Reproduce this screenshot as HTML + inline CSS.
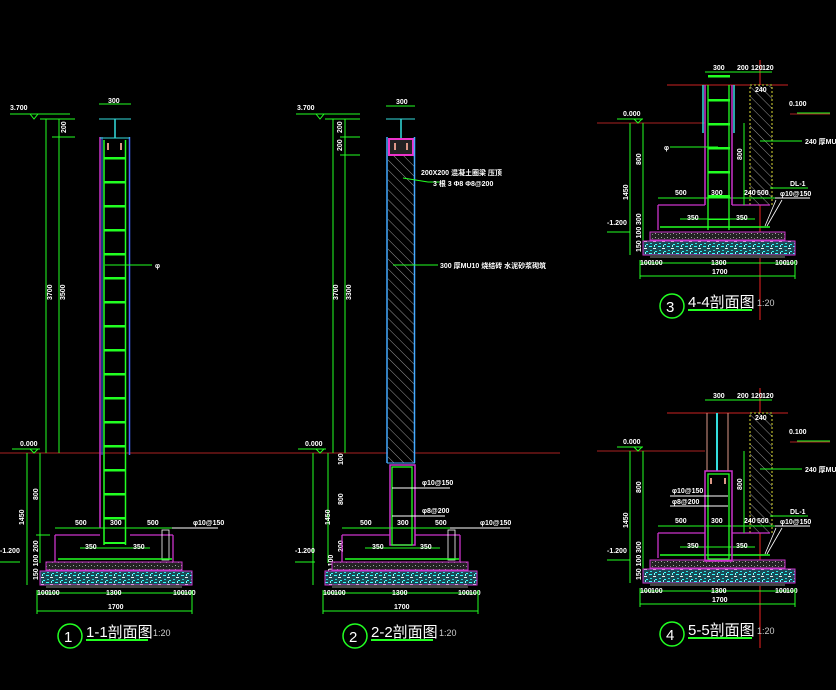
<!DOCTYPE html>
<html><head><meta charset="utf-8"><style>
html,body{margin:0;padding:0;background:#000;}
svg{display:block}
text{font-family:"Liberation Sans","Noto Sans CJK SC",sans-serif;fill:#fff;font-size:7px;font-weight:bold}
.t{font-size:15px;fill:#fff;font-weight:normal}
.s{font-size:9px;fill:#ccc;font-weight:normal}
</style></head><body>
<svg width="836" height="690" viewBox="0 0 836 690" xmlns="http://www.w3.org/2000/svg">
<defs>
<pattern id="rung" width="30" height="24" patternUnits="userSpaceOnUse" y="157">
<rect x="0" y="0" width="30" height="2.5" fill="#2f2"/>
</pattern>
<pattern id="hatch" width="7" height="7" patternUnits="userSpaceOnUse" patternTransform="rotate(-45)">
<rect width="7" height="7" fill="#000"/>
<line x1="0" y1="0" x2="0" y2="7" stroke="#bbb" stroke-width="0.8"/>
</pattern>
<pattern id="grav" width="9" height="7" patternUnits="userSpaceOnUse">
<rect width="9" height="7" fill="#1a4a55"/>
<rect x="1" y="1" width="3" height="1" fill="#3ff"/><rect x="5" y="3" width="3" height="1" fill="#eee"/>
<rect x="2" y="5" width="2" height="1" fill="#3dd"/><rect x="7" y="6" width="2" height="1" fill="#3ff"/>
<rect x="6" y="0" width="1" height="2" fill="#8ff"/>
</pattern>
<pattern id="sand" width="6" height="4" patternUnits="userSpaceOnUse">
<rect width="6" height="4" fill="#222"/>
<rect x="1" y="1" width="1" height="1" fill="#aaa"/><rect x="4" y="2" width="1" height="1" fill="#888"/>
</pattern>
</defs>

<!-- ========== SECTION 1 ========== -->
<g>
<line x1="0" y1="453" x2="270" y2="453" stroke="#a22" stroke-width="1"/>
<line x1="10" y1="114" x2="70" y2="114" stroke="#2f2"/>
<path d="M30 114 l4 5 l4 -5z" fill="none" stroke="#2f2"/>
<text x="10" y="110">3.700</text>
<line x1="46" y1="119" x2="46" y2="453" stroke="#2f2"/>
<line x1="59" y1="119" x2="59" y2="453" stroke="#2f2"/>
<line x1="40" y1="119" x2="75" y2="119" stroke="#2f2"/>
<line x1="52" y1="137" x2="75" y2="137" stroke="#2f2"/>
<text transform="translate(66,133) rotate(-90)">200</text>
<text transform="translate(52,300) rotate(-90)">3700</text>
<text transform="translate(65,300) rotate(-90)">3500</text>
<line x1="99" y1="104" x2="131" y2="104" stroke="#2f2"/>
<text x="108" y="103">300</text>
<line x1="99" y1="119" x2="131" y2="119" stroke="#3dd"/>
<line x1="115" y1="119" x2="115" y2="138" stroke="#3dd" stroke-width="1.5"/>
<rect x="104" y="138" width="22" height="390" fill="url(#rung)"/>
<line x1="100" y1="137" x2="100" y2="528" stroke="#c3c" stroke-width="1.5"/>
<line x1="129.5" y1="137" x2="129.5" y2="455" stroke="#46f" stroke-width="1.5"/>
<line x1="102" y1="137" x2="102" y2="455" stroke="#46f" stroke-width="1"/>
<line x1="104" y1="140" x2="104" y2="545" stroke="#2f2" stroke-width="1.5"/>
<line x1="125.5" y1="140" x2="125.5" y2="545" stroke="#2f2" stroke-width="1.5"/>
<line x1="100" y1="138" x2="130" y2="138" stroke="#3dd"/>
<path d="M108 143v7M121 143v7" stroke="#d98" stroke-width="2"/>
<line x1="105" y1="265" x2="152" y2="265" stroke="#2f2"/>
<text x="155" y="268">φ</text>
<line x1="27" y1="453" x2="27" y2="585" stroke="#2f2"/>
<line x1="40" y1="453" x2="40" y2="563" stroke="#2f2"/>
<line x1="36" y1="535" x2="50" y2="535" stroke="#2f2"/>
<line x1="12" y1="449" x2="40" y2="449" stroke="#2f2"/>
<path d="M30 449 l4 4 l4 -4z" fill="none" stroke="#2f2"/>
<text x="20" y="446">0.000</text>
<text transform="translate(38,500) rotate(-90)">800</text>
<text transform="translate(24,525) rotate(-90)">1450</text>
<text transform="translate(38,552) rotate(-90)">200</text>
<text transform="translate(38,580) rotate(-90)">150 100</text>
<line x1="0" y1="562" x2="20" y2="562" stroke="#2f2"/>
<text x="0" y="553">-1.200</text>
<line x1="55" y1="528" x2="172" y2="528" stroke="#2f2"/>
<text x="75" y="525">500</text><text x="110" y="525">300</text><text x="147" y="525">500</text>
<line x1="172" y1="528" x2="218" y2="528" stroke="#fff"/>
<text x="193" y="525">φ10@150</text>
<path d="M55 535H100M130 535H173M55 535V562M173 535V562" stroke="#c3c" stroke-width="1.3" fill="none"/>
<rect x="162" y="530" width="7" height="30" fill="none" stroke="#fff" stroke-width="0.8"/>
<line x1="58" y1="559" x2="172" y2="559" stroke="#2f2" stroke-width="1.5"/>
<line x1="80" y1="548" x2="150" y2="548" stroke="#2f2"/>
<text x="85" y="549">350</text><text x="133" y="549">350</text>
<rect x="104" y="542" width="22" height="2" fill="#2f2"/>
<rect x="46" y="562" width="136" height="8" fill="url(#sand)" stroke="#c3c"/>
<rect x="40" y="571" width="152" height="14" fill="url(#grav)" stroke="#c3c"/>
<rect x="46" y="585" width="136" height="3" fill="#444"/>
<line x1="37" y1="593" x2="192" y2="593" stroke="#2f2"/>
<text x="37" y="595">100</text><text x="48" y="595">100</text><text x="106" y="595">1300</text><text x="173" y="595">100</text><text x="184" y="595">100</text>
<line x1="37" y1="611" x2="192" y2="611" stroke="#2f2"/>
<line x1="37" y1="590" x2="37" y2="614" stroke="#2f2"/><line x1="192" y1="590" x2="192" y2="614" stroke="#2f2"/>
<text x="108" y="609">1700</text>
<circle cx="70" cy="636" r="12" fill="none" stroke="#2f2" stroke-width="1.5"/>
<text class="t" x="64" y="642">1</text>
<text class="t" x="86" y="637">1-1剖面图</text>
<line x1="86" y1="640" x2="148" y2="640" stroke="#2f2" stroke-width="2"/>
<text class="s" x="153" y="636">1:20</text>
</g>

<!-- ========== SECTION 2 ========== -->
<g>
<line x1="270" y1="453" x2="560" y2="453" stroke="#a22"/>
<line x1="296" y1="114" x2="360" y2="114" stroke="#2f2"/>
<path d="M316 114 l4 5 l4 -5z" fill="none" stroke="#2f2"/>
<text x="297" y="110">3.700</text>
<line x1="333" y1="119" x2="333" y2="453" stroke="#2f2"/>
<line x1="345" y1="119" x2="345" y2="453" stroke="#2f2"/>
<line x1="325" y1="119" x2="360" y2="119" stroke="#2f2"/>
<line x1="340" y1="137" x2="360" y2="137" stroke="#2f2"/>
<line x1="340" y1="155" x2="360" y2="155" stroke="#2f2"/>
<text transform="translate(342,133) rotate(-90)">200</text>
<text transform="translate(342,151) rotate(-90)">200</text>
<text transform="translate(338,300) rotate(-90)">3700</text>
<text transform="translate(351,300) rotate(-90)">3300</text>
<line x1="386" y1="106" x2="415" y2="106" stroke="#2f2"/>
<text x="396" y="104">300</text>
<line x1="386" y1="119" x2="415" y2="119" stroke="#3dd"/>
<line x1="401" y1="119" x2="401" y2="138" stroke="#3dd" stroke-width="1.5"/>
<rect x="388" y="138" width="26" height="325" fill="url(#hatch)"/>
<rect x="389" y="139" width="24" height="16" fill="#222" stroke="#e3c" stroke-width="2"/>
<path d="M395 143v7M407 143v7" stroke="#d98" stroke-width="2"/>
<line x1="387" y1="137" x2="387" y2="463" stroke="#4af" stroke-width="1.5"/>
<line x1="414.5" y1="137" x2="414.5" y2="463" stroke="#4af" stroke-width="1.5"/>
<line x1="387" y1="463" x2="415" y2="463" stroke="#4af"/>
<path d="M403 178 L428 182" stroke="#2f2" fill="none"/>
<line x1="428" y1="182" x2="440" y2="182" stroke="#2f2"/>
<text x="421" y="175">200X200 混凝土圈梁 压顶</text>
<text x="433" y="186">3 根 3 Φ8  Φ8@200</text>
<line x1="393" y1="265" x2="438" y2="265" stroke="#2f2"/>
<text x="440" y="268">300 厚MU10 烧结砖 水泥砂浆砌筑</text>
<rect x="390" y="465" width="25" height="80" fill="none" stroke="#c3c" stroke-width="1.5"/>
<rect x="392" y="467" width="20" height="78" fill="none" stroke="#2f2" stroke-width="1.3"/>
<line x1="392" y1="488" x2="450" y2="488" stroke="#fff"/><text x="422" y="485">φ10@150</text>
<line x1="392" y1="516" x2="445" y2="516" stroke="#fff"/><text x="422" y="513">φ8@200</text>
<line x1="313" y1="453" x2="313" y2="585" stroke="#2f2"/>
<line x1="328" y1="453" x2="328" y2="563" stroke="#2f2"/>
<line x1="298" y1="449" x2="326" y2="449" stroke="#2f2"/>
<path d="M316 449 l4 4 l4 -4z" fill="none" stroke="#2f2"/>
<text x="305" y="446">0.000</text>
<text transform="translate(343,465) rotate(-90)">100</text>
<text transform="translate(343,505) rotate(-90)">800</text>
<text transform="translate(330,525) rotate(-90)">1450</text>
<text transform="translate(343,552) rotate(-90)">200</text>
<text transform="translate(333,580) rotate(-90)">150 100</text>
<line x1="295" y1="562" x2="315" y2="562" stroke="#2f2"/>
<text x="295" y="553">-1.200</text>
<line x1="342" y1="528" x2="460" y2="528" stroke="#2f2"/>
<text x="360" y="525">500</text><text x="397" y="525">300</text><text x="435" y="525">500</text>
<line x1="450" y1="528" x2="510" y2="528" stroke="#fff"/>
<text x="480" y="525">φ10@150</text>
<path d="M342 535H390M415 535H460M342 535V562M460 535V562" stroke="#c3c" stroke-width="1.3" fill="none"/>
<rect x="448" y="530" width="7" height="30" fill="none" stroke="#fff" stroke-width="0.8"/>
<line x1="345" y1="559" x2="459" y2="559" stroke="#2f2" stroke-width="1.5"/>
<line x1="365" y1="548" x2="440" y2="548" stroke="#2f2"/>
<text x="372" y="549">350</text><text x="420" y="549">350</text>
<rect x="332" y="562" width="136" height="8" fill="url(#sand)" stroke="#c3c"/>
<rect x="325" y="571" width="152" height="14" fill="url(#grav)" stroke="#c3c"/>
<rect x="332" y="585" width="136" height="3" fill="#444"/>
<line x1="323" y1="593" x2="478" y2="593" stroke="#2f2"/>
<text x="323" y="595">100</text><text x="334" y="595">100</text><text x="392" y="595">1300</text><text x="458" y="595">100</text><text x="469" y="595">100</text>
<line x1="323" y1="611" x2="478" y2="611" stroke="#2f2"/>
<line x1="323" y1="590" x2="323" y2="614" stroke="#2f2"/><line x1="478" y1="590" x2="478" y2="614" stroke="#2f2"/>
<text x="394" y="609">1700</text>
<circle cx="355" cy="636" r="12" fill="none" stroke="#2f2" stroke-width="1.5"/>
<text class="t" x="349" y="642">2</text>
<text class="t" x="371" y="637">2-2剖面图</text>
<line x1="371" y1="640" x2="433" y2="640" stroke="#2f2" stroke-width="2"/>
<text class="s" x="439" y="636">1:20</text>
</g>

<!-- ========== SECTION 3 & 4 ========== -->
<g id="s3">
<line x1="760" y1="60" x2="760" y2="320" stroke="#e22"/>
<line x1="705" y1="72" x2="772" y2="72" stroke="#2f2"/>
<text x="713" y="70">300</text><text x="737" y="70">200</text><text x="751" y="70">120</text><text x="762" y="70">120</text>
<line x1="667" y1="85" x2="788" y2="85" stroke="#c22"/>
<line x1="797" y1="113" x2="830" y2="113" stroke="#2f2"/><text x="789" y="106">0.100</text>
<line x1="790" y1="114" x2="830" y2="114" stroke="#a22"/>
<line x1="597" y1="123" x2="705" y2="123" stroke="#a22"/>
<line x1="617" y1="119" x2="643" y2="119" stroke="#2f2"/><text x="623" y="116">0.000</text>
<path d="M634 119 l4 4 l4 -4z" fill="none" stroke="#2f2"/>
<line x1="630" y1="123" x2="630" y2="255" stroke="#2f2"/>
<line x1="643" y1="123" x2="643" y2="255" stroke="#2f2"/>
<text transform="translate(628,200) rotate(-90)">1450</text>
<text transform="translate(641,165) rotate(-90)">800</text>
<text transform="translate(641,225) rotate(-90)">300</text>
<text transform="translate(641,252) rotate(-90)">150 100</text>
<line x1="607" y1="232" x2="630" y2="232" stroke="#2f2"/><text x="607" y="225">-1.200</text>
<rect x="750" y="85" width="22" height="120" fill="url(#hatch)" stroke="#dd3" stroke-dasharray="2,2"/>
<text x="755" y="92">240</text>
<line x1="760" y1="141" x2="802" y2="141" stroke="#2f2"/><text x="805" y="144">240 厚MU10</text>
<text x="790" y="186">DL-1</text><line x1="770" y1="188" x2="808" y2="188" stroke="#2f2"/>
<path d="M658 205H705M732 205H770M658 205V230" stroke="#c3c" stroke-width="1.3" fill="none"/>
<line x1="658" y1="198" x2="775" y2="198" stroke="#2f2"/>
<text x="675" y="195">500</text><text x="711" y="195">300</text><text x="744" y="195">240</text><text x="757" y="195">500</text>
<line x1="775" y1="198" x2="810" y2="198" stroke="#fff"/><text x="780" y="196">φ10@150</text>
<path d="M782 200 L767 226M776 200 L765 226" stroke="#fff" stroke-width="0.8"/>
<line x1="660" y1="227" x2="770" y2="227" stroke="#2f2" stroke-width="1.5"/>
<line x1="680" y1="219" x2="755" y2="219" stroke="#2f2"/>
<text x="687" y="220">350</text><text x="736" y="220">350</text>
<rect x="650" y="232" width="135" height="8" fill="url(#sand)" stroke="#c3c"/>
<rect x="643" y="241" width="152" height="14" fill="url(#grav)" stroke="#c3c"/>
<rect x="650" y="255" width="135" height="3" fill="#444"/>
<line x1="640" y1="263" x2="795" y2="263" stroke="#2f2"/>
<text x="640" y="265">100</text><text x="651" y="265">100</text><text x="711" y="265">1300</text><text x="775" y="265">100</text><text x="786" y="265">100</text>
<line x1="640" y1="276" x2="795" y2="276" stroke="#2f2"/>
<line x1="640" y1="260" x2="640" y2="279" stroke="#2f2"/><line x1="795" y1="260" x2="795" y2="279" stroke="#2f2"/>
<text x="712" y="274">1700</text>
</g>
<rect x="708" y="85" width="22" height="145" fill="url(#rung)" transform="translate(0,-10)"/>
<line x1="705" y1="85" x2="705" y2="205" stroke="#c3c" stroke-width="1.5"/>
<line x1="732" y1="85" x2="732" y2="205" stroke="#c3c" stroke-width="1.5"/>
<line x1="708" y1="85" x2="708" y2="230" stroke="#2f2" stroke-width="1.3"/>
<line x1="729" y1="85" x2="729" y2="230" stroke="#2f2" stroke-width="1.3"/>
<line x1="703" y1="85" x2="703" y2="133" stroke="#3dd" stroke-width="1.5"/>
<line x1="734" y1="85" x2="734" y2="133" stroke="#3dd" stroke-width="1.5"/>
<line x1="744" y1="123" x2="744" y2="205" stroke="#2f2"/>
<text transform="translate(742,160) rotate(-90)">800</text>
<line x1="670" y1="147" x2="718" y2="147" stroke="#2f2"/><text x="664" y="150">φ</text>
<circle cx="672" cy="306" r="12" fill="none" stroke="#2f2" stroke-width="1.5"/>
<text class="t" x="666" y="312">3</text>
<text class="t" x="688" y="307">4-4剖面图</text>
<line x1="688" y1="310" x2="752" y2="310" stroke="#2f2" stroke-width="2"/>
<text class="s" x="757" y="306">1:20</text>

<use href="#s3" transform="translate(0,328)"/>
<line x1="707" y1="413" x2="707" y2="471" stroke="#d98"/>
<line x1="728" y1="413" x2="728" y2="471" stroke="#d98"/>
<line x1="717" y1="413" x2="717" y2="471" stroke="#3dd" stroke-width="2"/>
<rect x="705" y="471" width="27" height="90" fill="none" stroke="#c3c" stroke-width="1.5"/>
<rect x="708" y="474" width="21" height="85" fill="none" stroke="#2f2" stroke-width="1.3"/>
<path d="M711 478v6M725 478v6" stroke="#d98" stroke-width="2"/>
<line x1="744" y1="451" x2="744" y2="533" stroke="#2f2"/>
<text transform="translate(742,490) rotate(-90)">800</text>
<line x1="670" y1="496" x2="728" y2="496" stroke="#fff"/><text x="672" y="493">φ10@150</text>
<line x1="670" y1="506" x2="728" y2="506" stroke="#fff"/><text x="672" y="504">φ8@200</text>
<circle cx="672" cy="634" r="12" fill="none" stroke="#2f2" stroke-width="1.5"/>
<text class="t" x="666" y="640">4</text>
<text class="t" x="688" y="635">5-5剖面图</text>
<line x1="688" y1="638" x2="752" y2="638" stroke="#2f2" stroke-width="2"/>
<text class="s" x="757" y="634">1:20</text>
</svg>
</body></html>
